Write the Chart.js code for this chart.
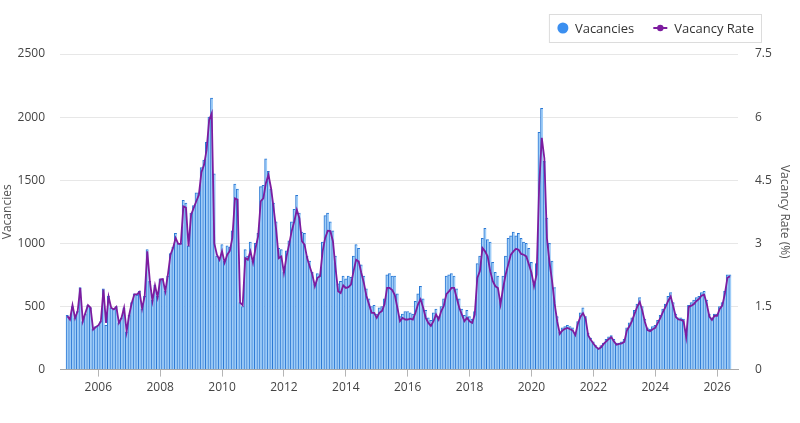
<!DOCTYPE html>
<html lang="en">
<head>
  <meta charset="UTF-8">
  <title>Vacancies and Vacancy Rate</title>
  <script src="https://cdn.jsdelivr.net/npm/chart.js"></script>
  <style>
    body { margin: 0; background: #fff; }
    #wrap { width: 800px; height: 423px; }
  </style>
</head>
<body>
  <div id="wrap"><canvas id="vacChart"></canvas></div>

  <script>
    // monthly series, Jan 2005 .. Jun 2026 (index 0 = Jan 2005)
    const startYear = 2005;
    const yearLabels = [2006, 2008, 2010, 2012, 2014, 2016, 2018, 2020, 2022, 2024, 2026];

    const vacancies = [
      430, 400, 500, 410, 460, 650, 380, 440, 510, 490, 320, 340,
      350, 380, 640, 350, 580, 490, 480, 500, 370, 410, 490, 300,
      430, 530, 600, 590, 620, 480, 580, 950, 700, 550, 670, 580,
      720, 720, 620, 740, 920, 970, 1080, 1000, 1000, 1340, 1320, 980,
      1240, 1300, 1400, 1400, 1600, 1660, 1800, 2000, 2150, 1550, 900, 880,
      990, 860, 980, 970, 1100, 1470, 1430, 530, 500, 950, 900, 1010,
      860, 1000, 1080, 1450, 1460, 1670, 1570, 1430, 1320, 1170, 960, 950,
      770, 940, 1020, 1170, 1270, 1380, 1240, 1090, 1080, 900, 860, 770,
      680, 760, 750, 1010, 1220, 1240, 1170, 1100, 900, 680, 700, 740,
      720, 740, 730, 900, 990, 960, 830, 740, 640, 560, 500, 510,
      440, 490, 500, 560, 750, 760, 740, 740, 600, 420, 440, 460,
      460, 450, 440, 540, 600, 660, 560, 470, 410, 390, 450, 480,
      420, 500, 560, 740, 750, 760, 740, 640, 560, 480, 430, 470,
      420, 400, 460, 840, 900, 1040, 1120, 1030, 1010, 850, 770, 740,
      560, 740, 900, 1040, 1060, 1090, 1060, 1080, 1040, 1010, 1000, 960,
      850, 680, 840, 1880, 2070, 1650, 1200, 1000, 860, 650, 420, 300,
      330, 340, 350, 340, 330, 290, 380, 450, 490, 420, 290, 250,
      220, 190, 170, 190, 210, 240, 260, 270, 240, 210, 210, 220,
      240, 330, 370, 410, 470, 520, 570, 500, 400, 330, 320, 340,
      350, 390, 430, 480, 520, 580, 610, 530, 440, 410, 410, 400,
      280, 510, 530, 550, 570, 580, 610, 620, 550, 440, 410, 440,
      440, 500, 530, 620, 750, 750
    ];

    const vacancyRate = [
      1.27, 1.19, 1.53, 1.22, 1.39, 1.94, 1.15, 1.35, 1.53, 1.47, 0.95, 1.01,
      1.05, 1.15, 1.90, 1.11, 1.73, 1.47, 1.43, 1.49, 1.11, 1.23, 1.47, 0.90,
      1.31, 1.59, 1.79, 1.79, 1.85, 1.45, 1.75, 2.81, 2.10, 1.63, 2.00, 1.72,
      2.14, 2.15, 1.86, 2.26, 2.73, 2.89, 3.13, 2.99, 2.99, 3.88, 3.85, 2.93,
      3.68, 3.84, 4.00, 4.15, 4.69, 4.86, 5.22, 5.93, 6.09, 3.00, 2.73, 2.61,
      2.81, 2.54, 2.73, 2.82, 3.13, 4.07, 4.04, 1.59, 1.53, 2.65, 2.61, 2.81,
      2.54, 2.89, 3.17, 4.00, 4.07, 4.43, 4.63, 4.31, 3.84, 3.32, 2.65, 2.69,
      2.30, 2.69, 2.97, 3.29, 3.52, 3.80, 3.60, 3.05, 2.97, 2.65, 2.45, 2.26,
      1.98, 2.18, 2.22, 2.81, 3.13, 3.30, 3.29, 3.05, 2.42, 1.86, 1.82, 2.00,
      1.94, 1.96, 2.02, 2.34, 2.61, 2.57, 2.30, 2.06, 1.75, 1.55, 1.35, 1.35,
      1.23, 1.35, 1.39, 1.55, 1.94, 1.94, 1.89, 1.77, 1.47, 1.15, 1.23, 1.19,
      1.19, 1.21, 1.19, 1.35, 1.55, 1.67, 1.47, 1.23, 1.11, 1.04, 1.15, 1.31,
      1.19, 1.39, 1.51, 1.79, 1.86, 1.94, 1.94, 1.70, 1.47, 1.31, 1.15, 1.23,
      1.15, 1.11, 1.31, 2.18, 2.34, 2.89, 2.81, 2.69, 2.34, 2.10, 1.98, 1.94,
      1.55, 1.94, 2.26, 2.50, 2.73, 2.81, 2.87, 2.85, 2.75, 2.73, 2.69, 2.50,
      2.30, 1.98, 2.26, 4.39, 5.51, 5.02, 3.12, 2.55, 2.10, 1.56, 1.14, 0.85,
      0.93, 0.97, 0.99, 0.96, 0.93, 0.82, 1.09, 1.26, 1.34, 1.21, 0.81, 0.71,
      0.62, 0.54, 0.49, 0.53, 0.61, 0.67, 0.73, 0.77, 0.67, 0.59, 0.61, 0.62,
      0.66, 0.93, 1.03, 1.16, 1.33, 1.49, 1.61, 1.40, 1.13, 0.94, 0.91, 0.96,
      0.99, 1.11, 1.23, 1.37, 1.49, 1.63, 1.74, 1.50, 1.25, 1.19, 1.18, 1.15,
      0.77, 1.49, 1.52, 1.56, 1.63, 1.68, 1.76, 1.78, 1.56, 1.26, 1.18, 1.28,
      1.28, 1.44, 1.52, 1.80, 2.18, 2.22
    ];

    const FONT = "'Open Sans', 'Noto Sans', sans-serif";
    const BAR_KEY = "#3b8ff0";
    const RATE_COLOR = "#7d1c9f";

    // legend drawn by hand so it can sit in a framed box top right
    const boxedLegend = {
      id: "boxedLegend",
      afterDraw(chart) {
        const ctx = chart.ctx;
        const ds = chart.data.datasets;
        ctx.save();
        ctx.font = "13px " + FONT;
        const w0 = ctx.measureText(ds[0].label).width;
        const w1 = ctx.measureText(ds[1].label).width;
        const right = chart.width - 39;
        const total = 14 + 5 + 8 + w0 + 19 + 14 + 7 + w1 + 6;
        const left = right - total;
        const top = 14, h = 28, cy = top + h / 2;

        ctx.strokeStyle = "#dcdcdc";
        ctx.lineWidth = 1;
        ctx.strokeRect(left + 0.5, top + 0.5, total, h);

        let x = left + 14;
        ctx.fillStyle = BAR_KEY;
        ctx.beginPath();
        ctx.arc(x, cy, 5.5, 0, Math.PI * 2);
        ctx.fill();
        x += 12;
        ctx.fillStyle = "#333";
        ctx.textBaseline = "middle";
        ctx.fillText(ds[0].label, x, cy + 1);
        x += w0 + 19;

        ctx.strokeStyle = RATE_COLOR;
        ctx.lineWidth = 2;
        ctx.beginPath();
        ctx.moveTo(x, cy);
        ctx.lineTo(x + 14, cy);
        ctx.stroke();
        ctx.fillStyle = RATE_COLOR;
        ctx.beginPath();
        ctx.arc(x + 7, cy, 3.2, 0, Math.PI * 2);
        ctx.fill();
        x += 14 + 7;
        ctx.fillStyle = "#333";
        ctx.fillText(ds[1].label, x, cy + 1);
        ctx.restore();
      }
    };

    Chart.defaults.font.family = FONT;
    Chart.defaults.color = "#444";

    new Chart(document.getElementById("vacChart"), {
      type: "bar",
      data: {
        datasets: [
          {
            label: "Vacancies",
            data: vacancies.map((v, i) => ({ x: i, y: v })),
            yAxisID: "y",
            backgroundColor: "#9fcdf8",
            borderColor: "#2a78d4",
            borderWidth: { left: 1, right: 0, top: 1, bottom: 0 },
            borderSkipped: false,
            barPercentage: 1,
            categoryPercentage: 1,
            order: 2
          },
          {
            type: "line",
            label: "Vacancy Rate",
            data: vacancyRate.map((v, i) => ({ x: i, y: v })),
            yAxisID: "y1",
            borderColor: RATE_COLOR,
            borderWidth: 1.8,
            pointRadius: 0,
            tension: 0,
            order: 1
          }
        ]
      },
      options: {
        responsive: true,
        maintainAspectRatio: false,
        animation: false,
        layout: { padding: { top: 54, right: 8, bottom: 24, left: 0 } },
        plugins: {
          legend: { display: false },
          tooltip: { enabled: false }
        },
        scales: {
          x: {
            type: "linear",
            offset: false,
            min: -2.85,
            max: 260.1,
            afterBuildTicks: (scale) => {
              scale.ticks = yearLabels.map(yr => ({ value: (yr - startYear) * 12 }));
            },
            grid: {
              offset: false,
              drawOnChartArea: false,
              tickLength: 7,
              color: "#b5b5b5"
            },
            border: { display: true, color: "#a8a8a8" },
            ticks: {
              maxRotation: 0,
              font: { size: 12 },
              padding: 4,
              callback: (v) => String(startYear + Math.round(v / 12))
            }
          },
          y: {
            position: "left",
            min: 0,
            max: 2500,
            afterFit: (scale) => { scale.width = 60; },
            ticks: {
              stepSize: 500,
              padding: 15,
              font: { size: 12 },
              callback: (v) => String(v)
            },
            grid: { color: "#e7e7e7", drawTicks: false },
            border: { display: false },
            title: {
              display: true,
              text: "Vacancies",
              color: "#555",
              font: { size: 12 },
              padding: { top: 0, bottom: 0 }
            }
          },
          y1: {
            position: "right",
            min: 0,
            max: 7.5,
            afterFit: (scale) => { scale.width = 54; },
            ticks: { stepSize: 1.5, padding: 17, font: { size: 12 } },
            grid: { drawOnChartArea: false, drawTicks: false },
            border: { display: false },
            title: {
              display: true,
              text: "Vacancy Rate (%)",
              color: "#555",
              font: { size: 12 },
              padding: { top: 0, bottom: 0 }
            }
          }
        }
      },
      plugins: [boxedLegend]
    });
  </script>
</body>
</html>
